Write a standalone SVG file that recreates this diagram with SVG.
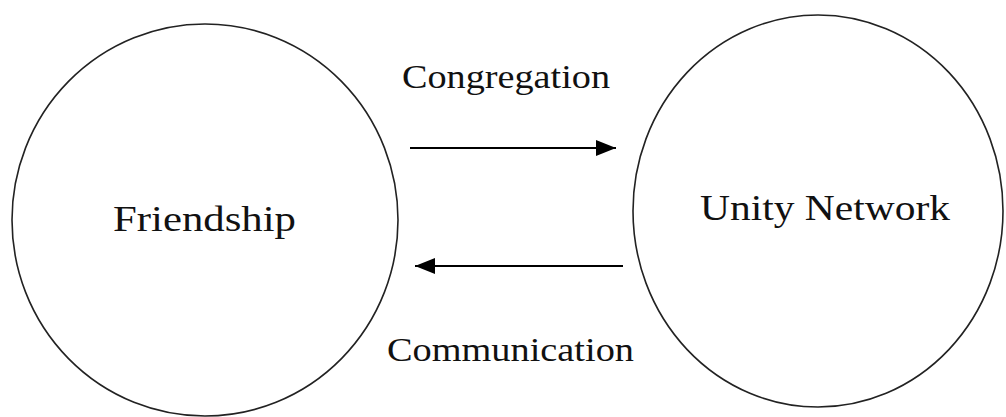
<svg xmlns="http://www.w3.org/2000/svg" width="1006" height="417" viewBox="0 0 1006 417">
<style>
.node{fill:none;stroke:#222;stroke-width:1.6}
.lbl{font-family:"Liberation Serif","DejaVu Serif",serif;fill:#111}
.big{font-size:36px}
.small{font-size:33px}
.conn{stroke:#000;stroke-width:2;fill:none}
</style>
<defs>
<marker id="ah" viewBox="0 0 20 16" refX="20" refY="8" markerWidth="20" markerHeight="16" markerUnits="userSpaceOnUse" orient="auto">
<path d="M0,0 L20,8 L0,16 Z" fill="#000"/>
</marker>
</defs>
<rect width="1006" height="417" fill="#fff"/>
<g id="friendship">
<ellipse class="node" cx="205" cy="220" rx="193" ry="196"/>
<text class="lbl big" x="113" y="231" textLength="183" lengthAdjust="spacingAndGlyphs">Friendship</text>
</g>
<g id="unity-network">
<ellipse class="node" cx="818" cy="211" rx="185" ry="196"/>
<text class="lbl big" x="700" y="220" textLength="250" lengthAdjust="spacingAndGlyphs">Unity Network</text>
</g>
<g id="connectors">
<line class="conn" x1="410" y1="148" x2="616" y2="148" marker-end="url(#ah)"/>
<text class="lbl small" x="402" y="88" textLength="208" lengthAdjust="spacingAndGlyphs">Congregation</text>
<line class="conn" x1="623" y1="266" x2="415" y2="266" marker-end="url(#ah)"/>
<text class="lbl small" x="387" y="361" textLength="247" lengthAdjust="spacingAndGlyphs">Communication</text>
</g>
</svg>
